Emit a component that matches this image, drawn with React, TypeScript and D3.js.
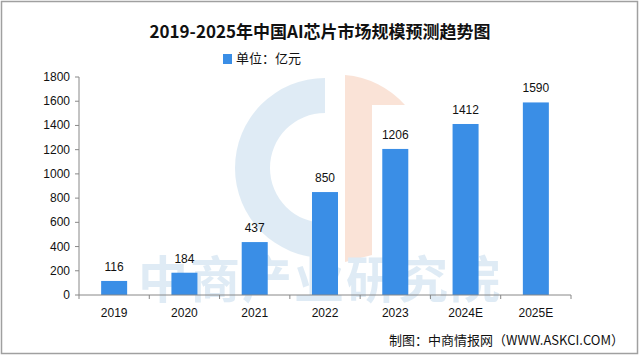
import React from "react";
import * as d3 from "d3";

const categories = ["2019", "2020", "2021", "2022", "2023", "2024E", "2025E"];
const values = [116, 184, 437, 850, 1206, 1412, 1590];
const yTicks = [0, 200, 400, 600, 800, 1000, 1200, 1400, 1600, 1800];
const title = "2019-2025年中国AI芯片市场规模预测趋势图";
const legendLabel = "单位：亿元";
const sourceText = "制图：中商情报网（WWW.ASKCI.COM）";
const watermark = "中商产业研究院";

export default function App() {
  const W = 640, H = 357;
  const left = 79, right = 571, top = 77, bottom = 295;
  const x = d3.scaleBand<string>().domain(categories).range([left, right]).paddingInner(0.63).paddingOuter(0.315);
  const xb = d3.scaleBand<string>().domain(categories).range([left, right]);
  const y = d3.scaleLinear().domain([0, 1800]).range([bottom, top]);
  const numFont = "'Liberation Sans', Arial, sans-serif";
  const cjk = "'Noto Sans CJK SC', sans-serif";

  const arc = d3.arc();
  const blueRing = arc({ innerRadius: 55, outerRadius: 90, startAngle: Math.PI, endAngle: 2 * Math.PI }) as string;

  return (
    <svg width={W} height={H} style={{ position: "absolute", left: 0, top: 0 }}>
      <rect x={0} y={0} width={W} height={H} fill="#fff" />
      <rect x={1.5} y={1.5} width={636} height={352} fill="none" stroke="#a0a0a0" strokeWidth={1.5} />
      {/* watermark */}
      <g opacity={0.55}>
        <path d={blueRing} transform="translate(325,168)" fill="#c6dced" />
        <rect x={233} y={78} width={80} height={22} fill="#c6dced" opacity={0} />
        <path d="M345,75 A 90 90 0 0 1 405,105 L 372,105 L 372,255 L 345,262 Z" fill="#f6cdb8" />
        <text x={320} y={298} textAnchor="middle" fontFamily={cjk} fontSize={50} fontWeight={700} fill="#c6dced" letterSpacing={2}>{watermark}</text>
      </g>
      <text x={320} y={38} textAnchor="middle" fontFamily={cjk} fontSize={17} fontWeight={700} fill="#111">{title}</text>
      <rect x={223} y={54} width={9} height={10} fill="#3a8ee6" />
      <text x={236} y={63} fontFamily={cjk} fontSize={13} fill="#111">{legendLabel}</text>
      {/* y axis */}
      <line x1={left} x2={left} y1={top} y2={bottom} stroke="#888" />
      {yTicks.map((t) => (
        <g key={t}>
          <line x1={left - 4} x2={left} y1={y(t)} y2={y(t)} stroke="#888" />
          <text x={70} y={y(t) + 4} textAnchor="end" fontFamily={numFont} fontSize={12} fill="#111">{t}</text>
        </g>
      ))}
      {/* bars */}
      {categories.map((c, i) => (
        <g key={c}>
          <rect x={x(c)} y={y(values[i])} width={x.bandwidth()} height={bottom - y(values[i])} fill="#3a8ee6" />
          <text x={(x(c) as number) + x.bandwidth() / 2} y={y(values[i]) - 10} textAnchor="middle" fontFamily={numFont} fontSize={12} fill="#111">{values[i]}</text>
          <text x={(xb(c) as number) + xb.bandwidth() / 2} y={317} textAnchor="middle" fontFamily={numFont} fontSize={12} fill="#111">{c}</text>
        </g>
      ))}
      {/* x axis */}
      <line x1={left} x2={right} y1={bottom} y2={bottom} stroke="#888" />
      {categories.map((c) => (
        <line key={c} x1={(xb(c) as number) + xb.bandwidth()} x2={(xb(c) as number) + xb.bandwidth()} y1={bottom} y2={bottom + 4} stroke="#888" />
      ))}
      <line x1={left} x2={left} y1={bottom} y2={bottom + 4} stroke="#888" />
      <text x={624} y={345} textAnchor="end" fontFamily={cjk} fontSize={13} fill="#111">{sourceText}</text>
    </svg>
  );
}
